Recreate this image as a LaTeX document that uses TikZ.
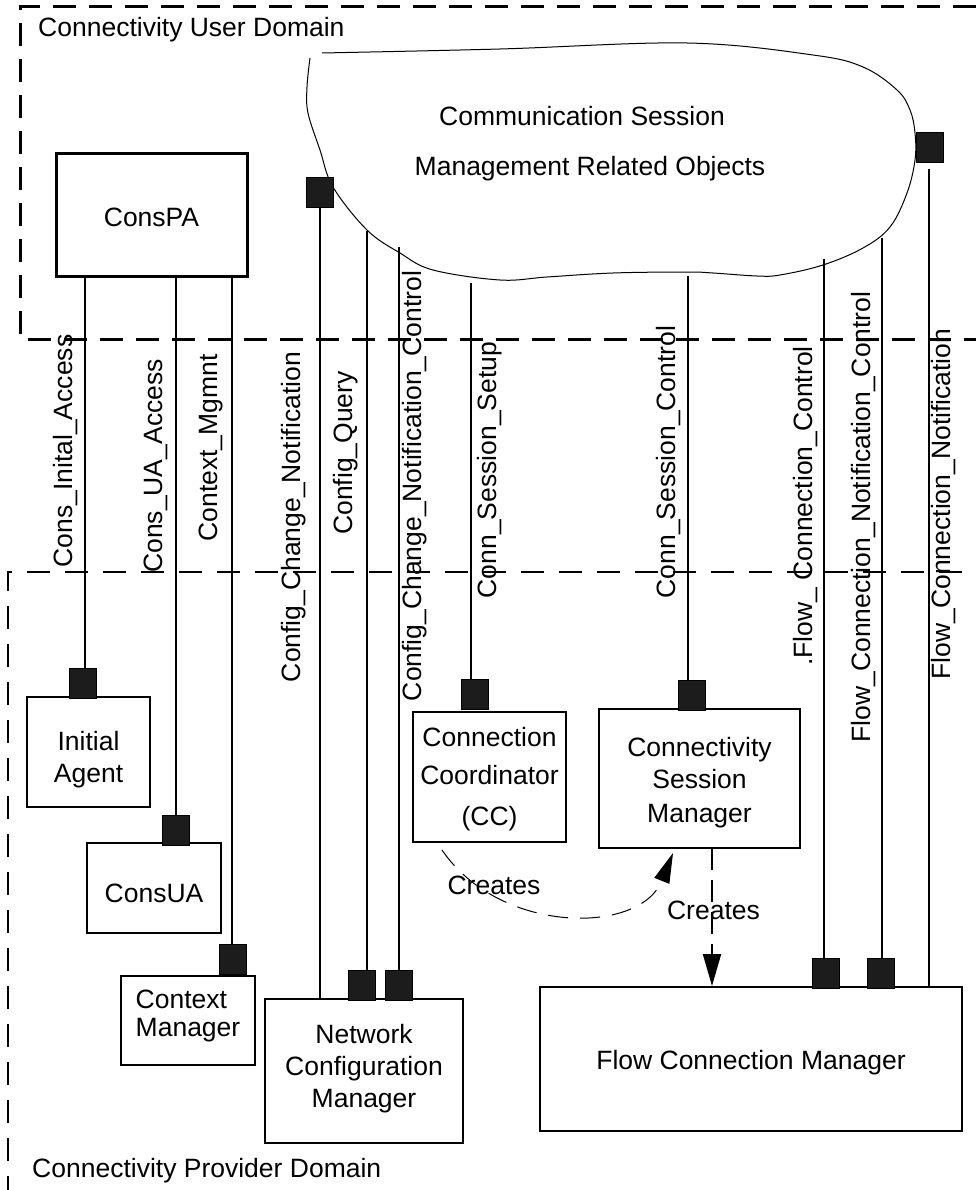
\documentclass[tikz,border=0pt]{standalone}
\usepackage{fontspec}
\setmainfont{Liberation Sans}
\usetikzlibrary{arrows.meta}
\definecolor{portfill}{RGB}{28,28,28}
\begin{document}
\begin{tikzpicture}[x=1pt,y=-1pt,
  font=\fontsize{26.5}{32}\selectfont,
  box/.style={draw, line width=2pt, inner sep=0pt},
  boxtext/.style={inner sep=0pt, align=center},
  port/.style={draw, line width=1pt, fill=portfill, minimum width=27pt, minimum height=30pt, inner sep=0pt},
  wire/.style={line width=2pt},
  lbl/.style={rotate=90, inner sep=0pt},
  userdomain/.style={line width=3pt, dash pattern=on 23pt off 13pt},
  providerdomain/.style={line width=2pt, dash pattern=on 23pt off 15pt},
  createcurve/.style={line width=1pt, dash pattern=on 20pt off 12pt, -{Triangle[length=30pt,width=16pt]}},
  createline/.style={line width=2pt, dash pattern=on 22pt off 10pt, -{Triangle[length=32pt,width=18pt]}}]

\fill[white] (0,0) rectangle (976,1190);
\useasboundingbox (0,0) rectangle (976,1190);

% domains
\draw[userdomain] (976,7) -- (20,7) -- (20,339) -- (976,339);
\draw[providerdomain] (962,572) -- (8,572) -- (8,1190);
\node[anchor=base west, inner sep=0pt] (userdom) at (38,36.5) {Connectivity User Domain};
\node[anchor=base west, inner sep=0pt] (provdom) at (32,1177) {Connectivity Provider Domain};

% communication session cloud
\draw[line width=1pt] plot[smooth, tension=0.6] coordinates {(310,58) (307,87) (308,113) (320,150) (333,187) (367,230) (400,253) (433,270) (500,280) (547,277) (613,273) (687,272) (713,273) (757,276) (780,275) (823,265) (863,248) (890,227) (907,193) (915,160) (915,133) (910,110) (897,90) (863,67) (813,55) (687,43) (500,49) (322,53)};
\node (cloudA) at (582,116) {Communication Session};
\node (cloudB) at (590,169) {Management Related Objects};

% objects
\node[box, line width=3pt, minimum width=191pt, minimum height=122pt] (ConsPA) at (151.5,215) {};
\node[box, minimum width=123pt, minimum height=110pt] (IA) at (88.5,752) {};
\node[box, minimum width=134pt, minimum height=90pt] (UA) at (154,888) {};
\node[box, minimum width=134pt, minimum height=89pt] (CM) at (188,1020.5) {};
\node[box, minimum width=198pt, minimum height=144pt] (NCM) at (364,1071) {};
\node[box, minimum width=153pt, minimum height=130pt] (CC) at (489.5,777) {};
\node[box, minimum width=201pt, minimum height=139pt] (CSM) at (699.5,778.5) {};
\node[box, minimum width=422pt, minimum height=144pt] (FCM) at (751,1059) {};

\node[boxtext] (tConsPA) at ([yshift=-2pt]ConsPA.center) {ConsPA};
\node[boxtext] (tIA) at ([yshift=-8pt]IA.center) {Initial\\Agent};
\node[boxtext] (tUA) at ([yshift=-5pt]UA.center) {ConsUA};
\node[boxtext, align=left] (tCM) at ([yshift=5pt]CM.center) {Context\\[-4pt]Manager};
\node[boxtext] (tNCM) at ([yshift=2pt]NCM.center) {Network\\Configuration\\Manager};
\node[boxtext] (tCC) at ([yshift=-2pt]CC.center) {Connection\\[6pt]Coordinator\\[9pt](CC)};
\node[boxtext] (tCSM) at ([yshift=-4pt]CSM.center) {Connectivity\\Session\\[2pt]Manager};
\node[boxtext] (tFCM) at ([yshift=-4pt]FCM.center) {Flow Connection Manager};

% interface ports
\node[port] (pIA) at (83,683.5) {};
\node[port] (pUA) at (176,830.5) {};
\node[port] (pCM) at (233,959.5) {};
\node[port] (pNQ) at (362,985) {};
\node[port] (pNC) at (398.5,985) {};
\node[port] (pCC) at (474.5,694) {};
\node[port] (pCSM) at (692,695) {};
\node[port] (pF1) at (825.5,973) {};
\node[port] (pF2) at (880.5,973) {};
\node[port] (pCL) at (319.5,193) {};
\node[port] (pCR) at (929.5,148) {};

% interface lines
\coordinate (wIA) at (85,276);
\coordinate (wUA) at (176,276);
\coordinate (wCM) at (232,276);
\coordinate (wNQ) at (367,231);
\coordinate (wNC) at (399,247);
\coordinate (wCC) at (471,283);
\coordinate (wCSM) at (688,276);
\coordinate (wF1) at (824,259);
\coordinate (wF2) at (882,238);
\coordinate (wFN) at (929,169);
\draw[wire] (wIA) -- (wIA |- pIA.north);
\draw[wire] (wUA) -- (wUA |- pUA.north);
\draw[wire] (wCM) -- (wCM |- pCM.north);
\draw[wire] (pCL.south) -- (pCL.south |- NCM.north);
\draw[wire] (wNQ) -- (wNQ |- pNQ.north);
\draw[wire] (wNC) -- (wNC |- pNC.north);
\draw[wire] (wCC) -- (wCC |- pCC.north);
\draw[wire] (wCSM) -- (wCSM |- pCSM.north);
\draw[wire] (wF1) -- (wF1 |- pF1.north);
\draw[wire] (wF2) -- (wF2 |- pF2.north);
\draw[wire] (wFN) -- (wFN |- FCM.north);

% interface names
\node[lbl] (l1) at (66,451) {Cons\_Inital\_Access};
\node[lbl] (l2) at (155.5,466) {Cons\_UA\_Access};
\node[lbl] (l3) at (210.5,448) {Context\_Mgmnt};
\node[lbl] (l4) at (294,517) {Config\_Change\_Notification};
\node[lbl] (l5) at (345.5,453) {Config\_Query};
\node[lbl] (l6) at (414.5,486) {Config\_Change\_Notification\_Control};
\node[lbl] (l7) at (490,470) {Conn\_Session\_Setup};
\node[lbl] (l8) at (668.5,462) {Conn\_Session\_Control};
\node[lbl] (l9) at (806,506) {.Flow\_ Connection\_Control};
\node[lbl] (l10) at (864,517) {Flow\_Connection\_Notification\_Control};
\node[lbl] (l11) at (943.5,504) {Flow\_Connection\_Notification};

% creation relations
\coordinate (ccOut) at (442,850);
\coordinate (csmIn) at (673,853);
\draw[createcurve] (ccOut) .. controls (500,935) and (640,935) .. (csmIn);
\node (cr1) at (494,885) {Creates};
\coordinate (csmOut) at (712,848);
\draw[createline] (csmOut) -- (csmOut |- FCM.north);
\node (cr2) at (713.5,910) {Creates};
\end{tikzpicture}
\end{document}
